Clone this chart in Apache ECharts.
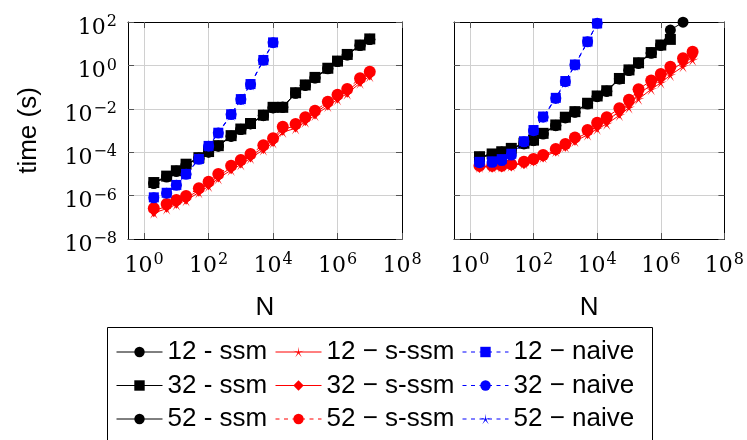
<!DOCTYPE html>
<html>
<head>
<meta charset="utf-8">
<script src="https://cdn.jsdelivr.net/npm/echarts@6/dist/echarts.min.js"></script>
<style>
  html, body { margin: 0; padding: 0; background: #ffffff; }
  #chart { width: 747px; height: 440px; }
</style>
</head>
<body>
<div id="chart"></div>
<script>
// Problem sizes N shared by every run
const N = [2, 5, 10, 20, 50, 100, 200, 500, 1e3, 2e3, 5e3, 1e4, 2e4, 5e4, 1e5, 2e5, 5e5, 1e6, 2e6, 5e6, 1e7];
// Decade exponents that carry ticks and labels
const xTickExponents = [0, 2, 4, 6, 8];

// Left panel, runtime in seconds
const leftSsm12 = [3.6e-6, 7.2e-6, 1.3e-5, 2.6e-5, 5.2e-5, 1.0e-4, 1.9e-4, 5.3e-4, 1.1e-3, 2.0e-3, 4.8e-3, 1.1e-2, 1.2e-2, 5.2e-2, 0.12, 0.26, 0.70, 1.5, 3.0, 8.2, 15.5];
const leftSsm32 = [4.0e-6, 7.9e-6, 1.4e-5, 2.8e-5, 5.6e-5, 1.07e-4, 2.0e-4, 5.8e-4, 1.17e-3, 2.1e-3, 5.1e-3, 1.17e-2, 1.17e-2, 5.5e-2, 0.126, 0.28, 0.74, 1.58, 3.2, 8.7, 16.6];
const leftSsm52 = [3.8e-6, 7.5e-6, 1.35e-5, 2.7e-5, 5.4e-5, 1.03e-4, 1.95e-4, 5.6e-4, 1.13e-3, 2.05e-3, 5.0e-3, 1.13e-2, 1.15e-2, 5.3e-2, 0.122, 0.27, 0.72, 1.55, 3.1, 8.5, 16.0];
const leftSssm12 = [1.6e-7, 2.5e-7, 3.9e-7, 6.0e-7, 1.4e-6, 2.7e-6, 6.2e-6, 1.5e-5, 2.7e-5, 5.2e-5, 1.3e-4, 2.7e-4, 8.5e-4, 1.25e-3, 2.5e-3, 5.0e-3, 1.3e-2, 2.7e-2, 5.0e-2, 0.155, 0.32];
const leftSssm32 = [2.0e-7, 3.2e-7, 5.0e-7, 7.6e-7, 1.75e-6, 3.5e-6, 8.0e-6, 1.9e-5, 3.5e-5, 6.6e-5, 1.65e-4, 3.5e-4, 1.15e-3, 1.6e-3, 3.2e-3, 6.4e-3, 1.65e-2, 3.5e-2, 6.4e-2, 0.2, 0.4];
const leftSssm52 = [2.6e-7, 4.1e-7, 6.3e-7, 9.5e-7, 2.2e-6, 4.4e-6, 1.0e-5, 2.4e-5, 4.4e-5, 8.3e-5, 2.1e-4, 4.4e-4, 1.5e-3, 2.0e-3, 4.1e-3, 8.1e-3, 2.1e-2, 4.4e-2, 8.1e-2, 0.257, 0.51];
const leftNaive12 = [8.3e-7, 1.35e-6, 3.1e-6, 1.0e-5, 4.9e-5, 1.95e-4, 7.9e-4, 5.6e-3, 2.8e-2, 0.138, 1.78, 11.5];
const leftNaive32 = [7.9e-7, 1.3e-6, 3.0e-6, 9.6e-6, 4.7e-5, 1.9e-4, 7.6e-4, 5.4e-3, 2.7e-2, 0.133, 1.72, 11.2];
const leftNaive52 = [7.6e-7, 1.25e-6, 2.9e-6, 9.3e-6, 4.6e-5, 1.85e-4, 7.4e-4, 5.2e-3, 2.6e-2, 0.13, 1.68, 11.0];

// Right panel, runtime in seconds
const rightSsm12 = [5.6e-5, 7.6e-5, 1.0e-4, 1.4e-4, 2.4e-4, 3.4e-4, 6.9e-4, 1.66e-3, 3.8e-3, 6.9e-3, 1.66e-2, 3.6e-2, 6.3e-2, 0.234, 0.575, 1.23, 3.6, 8.3, 42.7, 97.7];
const rightSsm32 = [6.2e-5, 8.3e-5, 1.05e-4, 1.5e-4, 2.6e-4, 3.6e-4, 7.4e-4, 1.8e-3, 4.1e-3, 7.4e-3, 1.8e-2, 3.9e-2, 6.8e-2, 0.25, 0.62, 1.32, 3.9, 8.7, 15.8];
const rightSsm52 = [5.9e-5, 7.9e-5, 1.02e-4, 1.48e-4, 2.5e-4, 3.5e-4, 7.2e-4, 1.74e-3, 4.0e-3, 7.2e-3, 1.74e-2, 3.8e-2, 6.6e-2, 0.245, 0.60, 1.29, 3.8, 8.5];
const rightSssm12 = [2.1e-5, 2.1e-5, 2.2e-5, 2.4e-5, 3.0e-5, 4.0e-5, 5.8e-5, 1.1e-4, 1.78e-4, 3.2e-4, 6.3e-4, 1.17e-3, 2.0e-3, 5.0e-3, 1.12e-2, 2.8e-2, 7.9e-2, 0.158, 0.355, 0.89, 1.78];
const rightSssm32 = [2.2e-5, 2.25e-5, 2.3e-5, 2.6e-5, 3.3e-5, 4.5e-5, 6.6e-5, 1.25e-4, 2.1e-4, 3.9e-4, 8.1e-4, 1.6e-3, 2.9e-3, 7.2e-3, 1.7e-2, 4.7e-2, 0.126, 0.25, 0.56, 1.38, 2.75];
const rightSssm52 = [2.4e-5, 2.4e-5, 2.4e-5, 2.75e-5, 3.6e-5, 4.9e-5, 7.4e-5, 1.41e-4, 2.4e-4, 4.7e-4, 1.05e-3, 2.3e-3, 4.1e-3, 1.05e-2, 2.6e-2, 7.9e-2, 0.2, 0.4, 0.87, 2.14, 4.27];
const rightNaive12 = [3.6e-5, 3.8e-5, 4.8e-5, 8.5e-5, 3.2e-4, 1.05e-3, 4.4e-3, 3.2e-2, 0.19, 1.1, 12.5, 86];
const rightNaive32 = [3.3e-5, 3.4e-5, 4.1e-5, 7.4e-5, 3.0e-4, 9.8e-4, 4.1e-3, 3.0e-2, 0.178, 1.05, 12.3, 87];
const rightNaive52 = [3.1e-5, 3.2e-5, 3.9e-5, 7.0e-5, 2.9e-4, 9.5e-4, 4.0e-3, 2.9e-2, 0.17, 1.0, 12, 85];

// Legend labels, one column per method
const ssmNames = ['12 - ssm', '32 - ssm', '52 - ssm'];
const sssmNames = ['12 \u2212 s-ssm', '32 \u2212 s-ssm', '52 \u2212 s-ssm'];
const naiveNames = ['12 \u2212 naive', '32 \u2212 naive', '52 \u2212 naive'];

// Thin five-armed asterisk used as the "star" mark
function starSymbol(inner) {
  let d = '';
  for (let k = 0; k < 10; k++) {
    const a = (-90 + k * 36) * Math.PI / 180;
    const r = k % 2 ? inner : 1;
    d += (k ? 'L' : 'M') + (r * Math.cos(a)).toFixed(3) + ' ' + (r * Math.sin(a)).toFixed(3) + ' ';
  }
  return 'path://' + d + 'Z';
}
const STAR = starSymbol(0.17);

const BLACK = '#000000', RED = '#ff0000', BLUE = '#0000ff';
const DASH = [4, 4.5];
const markStyle = {
  [ssmNames[0]]:   { color: BLACK, symbol: 'circle', size: 11, dash: 'solid' },
  [ssmNames[1]]:   { color: BLACK, symbol: 'rect', size: 11, dash: 'solid' },
  [ssmNames[2]]:   { color: BLACK, symbol: 'circle', size: 11, dash: 'solid' },
  [sssmNames[0]]:  { color: RED, symbol: STAR, size: 12, dash: 'solid' },
  [sssmNames[1]]:  { color: RED, symbol: 'diamond', size: [10, 13], dash: 'solid' },
  [sssmNames[2]]:  { color: RED, symbol: 'circle', size: 12, dash: DASH },
  [naiveNames[0]]: { color: BLUE, symbol: 'rect', size: 10, dash: DASH },
  [naiveNames[1]]: { color: BLUE, symbol: 'circle', size: 11, dash: DASH },
  [naiveNames[2]]: { color: BLUE, symbol: STAR, size: 12, dash: DASH }
};

function toLogPoints(times) {
  return times.map((t, i) => [Math.log10(N[i]), Math.log10(t)]);
}

function lineSeries(name, times, grid) {
  const s = markStyle[name];
  return {
    type: 'line', name: name,
    xAxisIndex: grid * 2, yAxisIndex: grid * 2,
    data: toLogPoints(times),
    symbol: s.symbol, symbolSize: s.size,
    showAllSymbol: true,
    itemStyle: { color: s.color, borderWidth: 0 },
    lineStyle: { color: s.color, width: 1, type: s.dash },
    emphasis: { disabled: true },
    z: 2
  };
}

const TICK_FONT = 'DejaVu Serif';
const SANS = 'Liberation Sans';

function powerLabel(v) {
  const e = Math.round(v);
  return '{b|10}{s|' + (e < 0 ? '\u2212' + (-e) : e) + '}';
}

const xRich = {
  b: { fontFamily: TICK_FONT, fontSize: 22, lineHeight: 22, color: '#000', padding: [7, 0, 0, 0] },
  s: { fontFamily: TICK_FONT, fontSize: 16, lineHeight: 16, color: '#000', padding: [0, 0, 7, 1] }
};
const yRich = {
  b: { fontFamily: TICK_FONT, fontSize: 22, lineHeight: 22, color: '#000', padding: [12, 0, 0, 0] },
  s: { fontFamily: TICK_FONT, fontSize: 16, lineHeight: 16, color: '#000', padding: [0, 0, 0, 1] }
};

const tickStyle = { show: true, inside: true, length: 6, lineStyle: { color: '#555555', width: 1 } };
const boxLine = { show: true, onZero: false, lineStyle: { color: '#000000', width: 1 } };
const gridLine = { show: true, lineStyle: { color: '#d0d0d0', width: 1 } };

function xAxisPair(grid) {
  return [
    {
      type: 'value', gridIndex: grid, position: 'bottom', min: -0.5, max: 8,
      axisLine: boxLine,
      axisTick: Object.assign({ customValues: xTickExponents }, tickStyle),
      axisLabel: { show: true, customValues: xTickExponents, formatter: powerLabel, margin: 13, rich: xRich },
      splitLine: gridLine,
      name: 'N', nameLocation: 'middle', nameGap: 56,
      nameTextStyle: { fontFamily: SANS, fontSize: 26, color: '#000' }
    },
    {
      type: 'value', gridIndex: grid, position: 'top', min: -0.5, max: 8,
      axisLine: boxLine,
      axisTick: Object.assign({ customValues: xTickExponents }, tickStyle),
      axisLabel: { show: false },
      splitLine: { show: false }
    }
  ];
}

function yAxisPair(grid, withLabels) {
  return [
    {
      type: 'value', gridIndex: grid, position: 'left', min: -8, max: 2, interval: 2,
      axisLine: boxLine,
      axisTick: tickStyle,
      axisLabel: withLabels
        ? { show: true, formatter: powerLabel, margin: 11, rich: yRich, showMinLabel: true, showMaxLabel: true }
        : { show: false },
      splitLine: gridLine,
      name: withLabels ? 'time (s)' : '', nameLocation: 'middle', nameRotate: 90, nameGap: 86,
      nameTextStyle: { fontFamily: SANS, fontSize: 26, color: '#000' }
    },
    {
      type: 'value', gridIndex: grid, position: 'right', min: -8, max: 2, interval: 2,
      axisLine: boxLine,
      axisTick: tickStyle,
      axisLabel: { show: false },
      splitLine: { show: false }
    }
  ];
}

const series = [
  // left panel: black, then red, then blue on top
  lineSeries(ssmNames[0], leftSsm12, 0),
  lineSeries(ssmNames[2], leftSsm52, 0),
  lineSeries(ssmNames[1], leftSsm32, 0),
  lineSeries(sssmNames[0], leftSssm12, 0),
  lineSeries(sssmNames[1], leftSssm32, 0),
  lineSeries(sssmNames[2], leftSssm52, 0),
  lineSeries(naiveNames[2], leftNaive52, 0),
  lineSeries(naiveNames[1], leftNaive32, 0),
  lineSeries(naiveNames[0], leftNaive12, 0),
  // right panel
  lineSeries(ssmNames[2], rightSsm52, 1),
  lineSeries(ssmNames[1], rightSsm32, 1),
  lineSeries(ssmNames[0], rightSsm12, 1),
  lineSeries(sssmNames[0], rightSssm12, 1),
  lineSeries(sssmNames[1], rightSssm32, 1),
  lineSeries(sssmNames[2], rightSssm52, 1),
  lineSeries(naiveNames[2], rightNaive52, 1),
  lineSeries(naiveNames[0], rightNaive12, 1),
  lineSeries(naiveNames[1], rightNaive32, 1)
];

function legendColumn(names, left) {
  return {
    data: names, orient: 'vertical', left: left, top: 339, padding: 0,
    itemWidth: 46, itemHeight: 13, itemGap: 7.5,
    selectedMode: false,
    lineStyle: { width: 1 },
    textStyle: { fontFamily: SANS, fontSize: 26, lineHeight: 26, color: '#000' }
  };
}

const chart = echarts.init(document.getElementById('chart'), null, { renderer: 'canvas' });
chart.setOption({
  animation: false,
  backgroundColor: '#ffffff',
  grid: [
    { left: 128, top: 22, width: 274, height: 217 },
    { left: 454, top: 22, width: 273, height: 217 }
  ],
  xAxis: [...xAxisPair(0), ...xAxisPair(1)],
  yAxis: [...yAxisPair(0, true), ...yAxisPair(1, false)],
  legend: [
    legendColumn(ssmNames, 116),
    legendColumn(sssmNames, 275),
    legendColumn(naiveNames, 462)
  ],
  graphic: [
    {
      type: 'rect', z: 0,
      shape: { x: 107.5, y: 327.5, width: 545, height: 130 },
      style: { fill: 'none', stroke: '#000000', lineWidth: 1 }
    }
  ],
  series: series
});
</script>
</body>
</html>
